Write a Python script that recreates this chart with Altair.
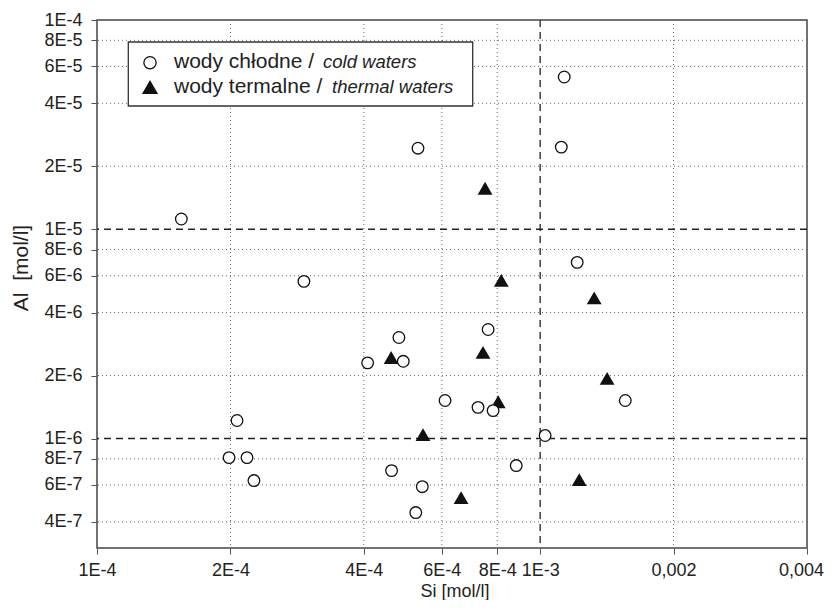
import altair as alt
import pandas as pd

# ---- data ----
cold_si = [1.55e-4, 2.93e-4, 5.30e-4, 1.133e-3, 1.116e-3, 1.212e-3, 7.63e-4, 4.80e-4,
           4.08e-4, 4.91e-4, 6.10e-4, 7.24e-4, 7.83e-4, 1.556e-3, 2.07e-4, 1.026e-3,
           1.986e-4, 2.18e-4, 2.26e-4, 4.62e-4, 8.83e-4, 5.42e-4, 5.24e-4]
cold_al = [1.12e-5, 5.64e-6, 2.44e-5, 5.34e-5, 2.47e-5, 6.95e-6, 3.32e-6, 3.04e-6,
           2.30e-6, 2.34e-6, 1.52e-6, 1.41e-6, 1.36e-6, 1.52e-6, 1.22e-6, 1.034e-6,
           8.11e-7, 8.11e-7, 6.30e-7, 7.03e-7, 7.43e-7, 5.89e-7, 4.43e-7]
thermal_si = [7.51e-4, 8.17e-4, 1.324e-3, 4.61e-4, 7.43e-4, 1.416e-3, 8.04e-4, 5.44e-4,
              6.63e-4, 1.225e-3]
thermal_al = [1.57e-5, 5.70e-6, 4.70e-6, 2.44e-6, 2.58e-6, 1.94e-6, 1.50e-6, 1.045e-6,
              5.22e-7, 6.37e-7]

x_ticks = [1e-4, 2e-4, 4e-4, 6e-4, 8e-4, 1e-3, 2e-3, 4e-3]
x_labels = ["1E-4", "2E-4", "4E-4", "6E-4", "8E-4", "1E-3", "0,002", "0,004"]
y_ticks = [4e-7, 6e-7, 8e-7, 1e-6, 2e-6, 4e-6, 6e-6, 8e-6, 1e-5, 2e-5, 4e-5, 6e-5, 8e-5, 1e-4]
y_labels = ["4E-7", "6E-7", "8E-7", "1E-6", "2E-6", "4E-6", "6E-6", "8E-6", "1E-5",
            "2E-5", "4E-5", "6E-5", "8E-5", "1E-4"]

x_dotted = [2e-4, 4e-4, 6e-4, 8e-4, 2e-3]
x_dashed = [1e-3]
y_dotted = [4e-7, 6e-7, 8e-7, 2e-6, 4e-6, 6e-6, 8e-6, 2e-5, 4e-5, 6e-5, 8e-5]
y_dashed = [1e-6, 1e-5]

legend_main = ["wody chłodne /", "wody termalne /"]
legend_italic = ["cold waters", "thermal waters"]

x_title = "Si [mol/l]"
y_title = "Al\u00a0 [mol/l]"

FONT = "Liberation Sans"
INK = "#222222"


def label_expr(vals, labs):
    expr = "''"
    for v, l in reversed(list(zip(vals, labs))):
        expr = f"abs(datum.value - {v!r}) < {v * 1e-3!r} ? '{l}' : ({expr})"
    return expr


xs = alt.Scale(type="log", domain=[1e-4, 4e-3], nice=False, zero=False)
ys = alt.Scale(type="log", domain=[3e-7, 1e-4], nice=False, zero=False)

xaxis = alt.Axis(values=x_ticks, labelExpr=label_expr(x_ticks, x_labels), title=x_title,
                 grid=False, domain=False, ticks=True, tickSize=6, tickColor="#555",
                 labelFont=FONT, labelFontSize=18, labelColor=INK, labelPadding=7,
                 labelFlush=False, labelOverlap=False,
                 labelOffset={"condition": {"test": "datum.value > 0.003", "value": -6},
                              "value": 0},
                 titleFont=FONT, titleFontSize=18, titleFontWeight="normal", titleColor=INK,
                 titleX=357.5, titleY=48, titleBaseline="alphabetic", titleAlign="center")
yaxis = alt.Axis(values=y_ticks, labelExpr=label_expr(y_ticks, y_labels), title=y_title,
                 grid=False, domain=False, ticks=True, tickSize=6, tickColor="#555",
                 labelFont=FONT, labelFontSize=18, labelColor=INK, labelPadding=9,
                 labelFlush=False, labelOverlap=False,
                 titleFont=FONT, titleFontSize=21, titleFontWeight="normal", titleColor=INK,
                 titleX=-69.4, titleY=247.5, titleAngle=270, titleBaseline="alphabetic",
                 titleAlign="center")

X = lambda f: alt.X(f"{f}:Q", scale=xs, axis=xaxis)
Y = lambda f: alt.Y(f"{f}:Q", scale=ys, axis=yaxis)

cold = pd.DataFrame({"si": cold_si, "al": cold_al})
thermal = pd.DataFrame({"si": thermal_si, "al": thermal_al})

vdot = alt.Chart(pd.DataFrame({"si": x_dotted})).mark_rule(
    color="#666", strokeWidth=1, strokeDash=[1, 3]).encode(x=X("si"))
hdot = alt.Chart(pd.DataFrame({"al": y_dotted})).mark_rule(
    color="#666", strokeWidth=1, strokeDash=[1, 3]).encode(y=Y("al"))
vdash = alt.Chart(pd.DataFrame({"si": x_dashed})).mark_rule(
    color="#333", strokeWidth=1.4, strokeDash=[7, 5]).encode(x=X("si"))
hdash = alt.Chart(pd.DataFrame({"al": y_dashed})).mark_rule(
    color="#222", strokeWidth=1.4, strokeDash=[7, 5]).encode(y=Y("al"))

tri = alt.Chart(thermal).mark_point(
    shape="triangle-up", filled=True, color="#111", size=220, opacity=1
).encode(x=X("si"), y=Y("al"))
circ = alt.Chart(cold).mark_point(
    shape="circle", filled=True, fill="white", stroke="#111", strokeWidth=1.3,
    size=135, opacity=1
).encode(x=X("si"), y=Y("al"))

one = pd.DataFrame({"k": [0]})
leg_box = alt.Chart(one).mark_rect(fill="white", stroke="#333", strokeWidth=1.3).encode(
    x=alt.value(31.3), x2=alt.value(375.7), y=alt.value(22), y2=alt.value(86))
leg_c = alt.Chart(one).mark_point(shape="circle", filled=True, fill="white", stroke="#111",
                                  strokeWidth=1.3, size=150, opacity=1).encode(
    x=alt.value(53), y=alt.value(42.7))
leg_t = alt.Chart(one).mark_point(shape="triangle-up", filled=True, color="#111",
                                  size=260, opacity=1).encode(
    x=alt.value(53), y=alt.value(67))


def leg_text(txt, x, y, size, style):
    return alt.Chart(pd.DataFrame({"t": [txt]})).mark_text(
        align="left", baseline="alphabetic", font=FONT, fontSize=size, fontStyle=style,
        color=INK).encode(text="t:N", x=alt.value(x), y=alt.value(y))


legend = [leg_box, leg_c, leg_t,
          leg_text(legend_main[0], 77, 47.7, 21, "normal"),
          leg_text(legend_main[1], 77, 72.5, 21, "normal"),
          leg_text(legend_italic[0], 226, 47.7, 18.5, "italic"),
          leg_text(legend_italic[1], 235, 72.5, 18.5, "italic")]

chart = alt.layer(vdot, hdot, vdash, hdash, tri, circ, *legend).properties(
    width=710, height=528,
    padding={"left": 89, "top": 12, "right": 17, "bottom": 52},
    autosize=alt.AutoSizeParams(type="none"),
).configure_view(stroke="#444", strokeWidth=1.5)

chart.save("out.html", embed_options={"renderer": "svg", "actions": False})
